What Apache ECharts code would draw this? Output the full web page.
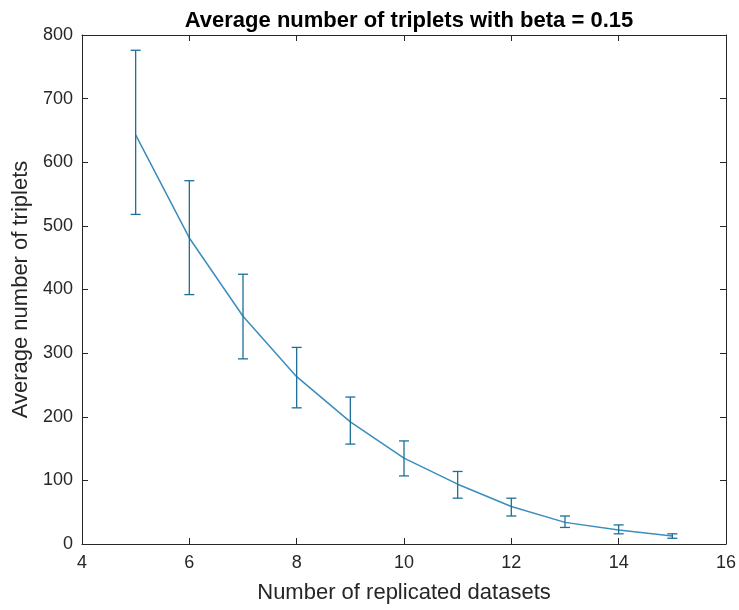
<!DOCTYPE html>
<html>
<head>
<meta charset="utf-8">
<script src="https://cdn.jsdelivr.net/npm/echarts@6/dist/echarts.min.js"></script>
<style>
  html, body { margin: 0; background: #fff; }
  #chart { width: 739px; height: 610px; }
</style>
</head>
<body>
<div id="chart"></div>
<script>
// number of replicated datasets
const datasets = [5, 6, 7, 8, 9, 10, 11, 12, 13, 14, 15]
// average number of triplets and error bar ends
const meanTriplets = [643, 481, 358, 263, 192, 135, 94, 59, 34, 22, 12.5]
const lowerBound = [518, 392, 291, 214, 157, 107, 72, 44, 26, 16, 9]
const upperBound = [776, 571, 424, 309, 231, 162, 114, 72, 44, 30, 16]

const axisColor = '#262626'
const lineColor = '#3a8dbd'
const barColor = '#1d6f98'
const font = 'Liberation Sans, Arial, sans-serif'

const lineData = datasets.map((x, i) => [x, meanTriplets[i]])
const errData = datasets.map((x, i) => [x, lowerBound[i], upperBound[i]])

function renderErrorBar(params, api) {
  const x = api.value(0)
  const lo = api.coord([x, api.value(1)])
  const hi = api.coord([x, api.value(2)])
  const half = 5
  const style = { stroke: barColor, lineWidth: 1.3 }
  return {
    type: 'group',
    children: [
      { type: 'line', shape: { x1: lo[0], y1: lo[1], x2: hi[0], y2: hi[1] }, style },
      { type: 'line', shape: { x1: hi[0] - half, y1: hi[1], x2: hi[0] + half, y2: hi[1] }, style },
      { type: 'line', shape: { x1: lo[0] - half, y1: lo[1], x2: lo[0] + half, y2: lo[1] }, style }
    ]
  }
}

const baseX = {
  type: 'value',
  min: 4,
  max: 16,
  interval: 2,
  splitLine: { show: false },
  axisLine: { show: true, onZero: false, lineStyle: { color: axisColor, width: 1 } },
  axisTick: { show: true, inside: true, length: 6, lineStyle: { color: axisColor } }
}
const baseY = {
  type: 'value',
  min: 0,
  max: 800,
  interval: 100,
  splitLine: { show: false },
  axisLine: { show: true, onZero: false, lineStyle: { color: axisColor, width: 1 } },
  axisTick: { show: true, inside: true, length: 6, lineStyle: { color: axisColor } }
}

const chart = echarts.init(document.getElementById('chart'))
chart.setOption({
  animation: false,
  backgroundColor: '#fff',
  title: {
    text: 'Average number of triplets with beta = 0.15',
    left: 404,
    top: 5,
    textAlign: 'center',
    textStyle: { fontFamily: font, fontSize: 22, fontWeight: 'bold', color: '#000' }
  },
  grid: { left: 82, right: 13, top: 35, bottom: 66 },
  xAxis: [
    {
      ...baseX,
      position: 'bottom',
      name: 'Number of replicated datasets',
      nameLocation: 'middle',
      nameGap: 38,
      nameTextStyle: { fontFamily: font, fontSize: 22, color: axisColor },
      axisLabel: { fontFamily: font, fontSize: 18, color: axisColor, margin: 10 }
    },
    { ...baseX, position: 'top', axisLabel: { show: false } }
  ],
  yAxis: [
    {
      ...baseY,
      position: 'left',
      name: 'Average number of triplets',
      nameLocation: 'middle',
      nameGap: 47,
      nameTextStyle: { fontFamily: font, fontSize: 22, color: axisColor },
      axisLabel: { fontFamily: font, fontSize: 18, color: axisColor, margin: 9 }
    },
    { ...baseY, position: 'right', axisLabel: { show: false } }
  ],
  series: [
    {
      type: 'line',
      data: lineData,
      showSymbol: false,
      lineStyle: { color: lineColor, width: 1.5 },
      z: 2
    },
    {
      type: 'custom',
      data: errData,
      renderItem: renderErrorBar,
      encode: { x: 0, y: [1, 2] },
      z: 3
    }
  ]
})
</script>
</body>
</html>
